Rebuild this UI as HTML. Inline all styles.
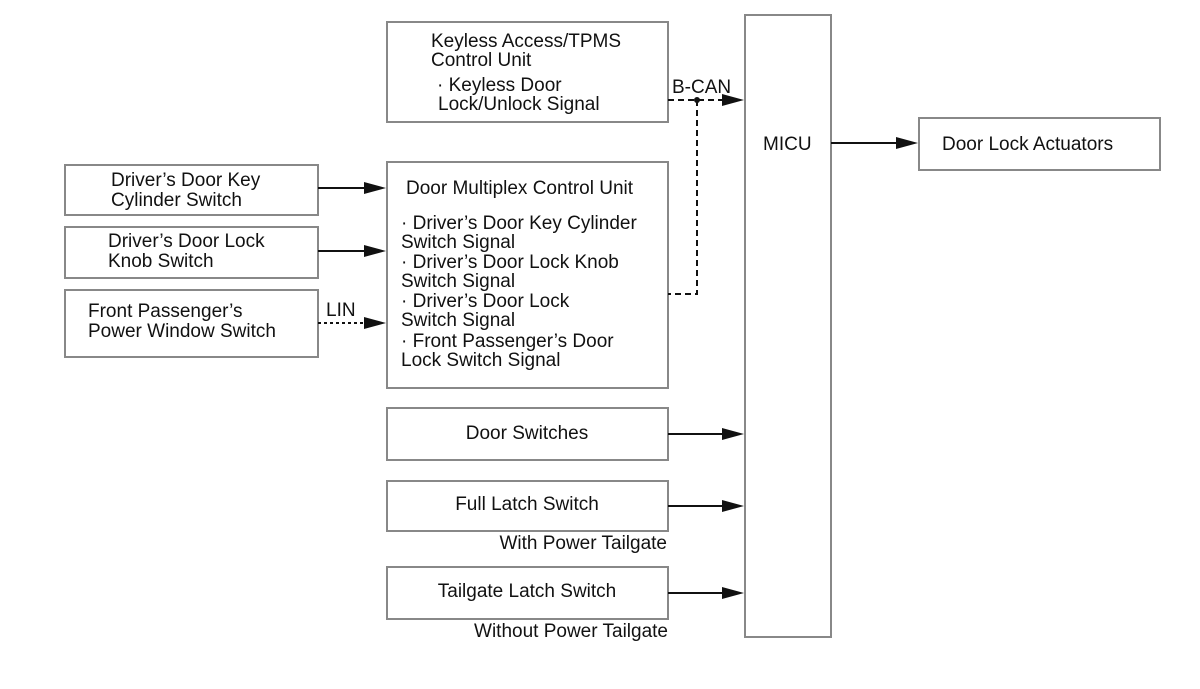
<!DOCTYPE html>
<html><head><meta charset="utf-8"><style>
html,body{margin:0;padding:0;background:#fff;}
svg{display:block;}
text{font-family:"Liberation Sans",Arial,sans-serif;font-size:19px;fill:#111;}
.b{fill:#fff;stroke:#888;stroke-width:2;}
.l{stroke:#111;stroke-width:2;fill:none;}
.d{stroke:#111;stroke-width:2;fill:none;stroke-dasharray:6,4;}
.o{stroke:#111;stroke-width:2;fill:none;stroke-dasharray:3,3;}
.h{fill:#111;}
</style></head><body>
<svg width="1200" height="689" viewBox="0 0 1200 689" xmlns="http://www.w3.org/2000/svg">
<rect class="b" x="387" y="22" width="281" height="100"/>
<rect class="b" x="387" y="162" width="281" height="226"/>
<rect class="b" x="387" y="408" width="281" height="52"/>
<rect class="b" x="387" y="481" width="281" height="50"/>
<rect class="b" x="387" y="567" width="281" height="52"/>
<rect class="b" x="745" y="15" width="86" height="622"/>
<rect class="b" x="919" y="118" width="241" height="52"/>
<rect class="b" x="65" y="165" width="253" height="50"/>
<rect class="b" x="65" y="227" width="253" height="51"/>
<rect class="b" x="65" y="290" width="253" height="67"/>
<path class="l" d="M318,188H366"/><path class="h" d="M364,182L386,188L364,194z"/>
<path class="l" d="M318,251H366"/><path class="h" d="M364,245L386,251L364,257z"/>
<path class="o" d="M318,323H364"/><path class="h" d="M364,317L386,323L364,329z"/>
<path class="l" d="M668,434H724"/><path class="h" d="M722,428L744,434L722,440z"/>
<path class="l" d="M668,506H724"/><path class="h" d="M722,500L744,506L722,512z"/>
<path class="l" d="M668,593H724"/><path class="h" d="M722,587L744,593L722,599z"/>
<path class="l" d="M831,143H898"/><path class="h" d="M896,137L918,143L896,149z"/>
<path class="d" d="M668,100H722"/><path class="h" d="M722,94L744,100L722,106z"/>
<path class="d" d="M697,100V294H668"/>
<circle cx="697" cy="100" r="3" fill="#111"/>
<text x="431" y="47">Keyless Access/TPMS</text>
<text x="431" y="66">Control Unit</text>
<text x="437" y="91">· Keyless Door</text>
<text x="438" y="110">Lock/Unlock Signal</text>
<text x="672" y="93">B-CAN</text>
<text x="406" y="194">Door Multiplex Control Unit</text>
<text x="401" y="229">· Driver’s Door Key Cylinder</text>
<text x="401" y="248">Switch Signal</text>
<text x="401" y="268">· Driver’s Door Lock Knob</text>
<text x="401" y="287">Switch Signal</text>
<text x="401" y="307">· Driver’s Door Lock</text>
<text x="401" y="326">Switch Signal</text>
<text x="401" y="347">· Front Passenger’s Door</text>
<text x="401" y="366">Lock Switch Signal</text>
<text x="111" y="186">Driver’s Door Key</text>
<text x="111" y="206">Cylinder Switch</text>
<text x="108" y="247">Driver’s Door Lock</text>
<text x="108" y="267">Knob Switch</text>
<text x="88" y="317">Front Passenger’s</text>
<text x="88" y="337">Power Window Switch</text>
<text x="326" y="316">LIN</text>
<text x="527" y="439" text-anchor="middle">Door Switches</text>
<text x="527" y="510" text-anchor="middle">Full Latch Switch</text>
<text x="667" y="549" text-anchor="end">With Power Tailgate</text>
<text x="527" y="597" text-anchor="middle">Tailgate Latch Switch</text>
<text x="668" y="637" text-anchor="end">Without Power Tailgate</text>
<text x="763" y="150">MICU</text>
<text x="942" y="150">Door Lock Actuators</text>
</svg>
</body></html>
